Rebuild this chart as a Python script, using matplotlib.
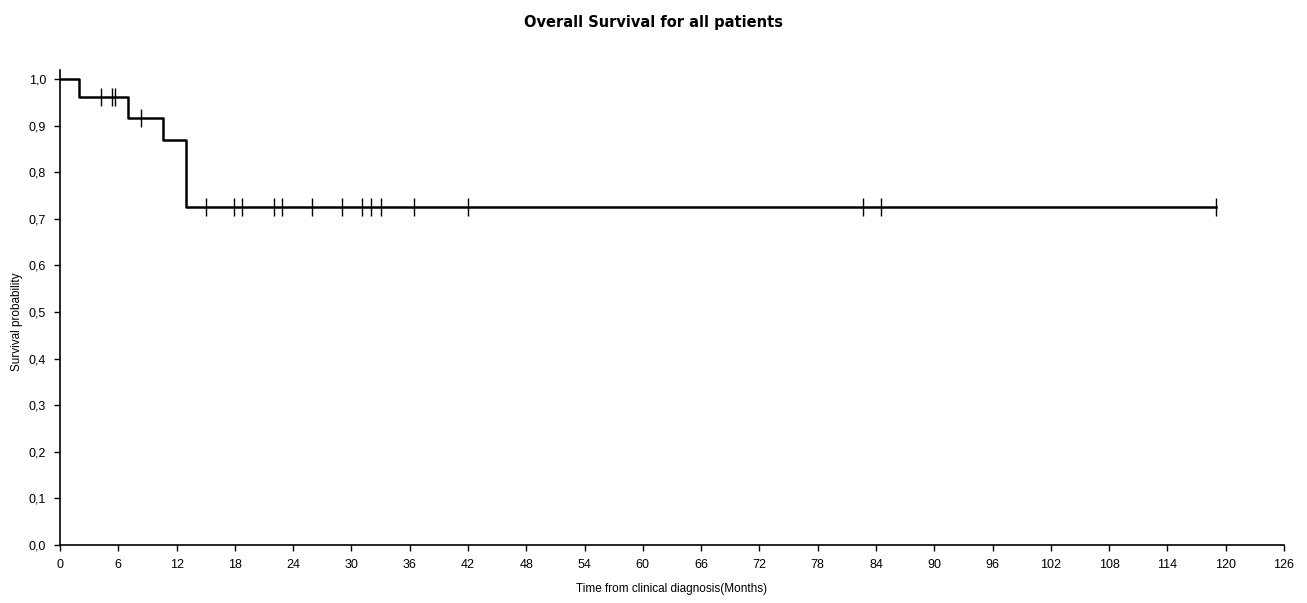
import numpy as np
import matplotlib.pyplot as plt

# Kaplan-Meier step curve (time in months, survival probability)
step_times = [0, 2, 7, 10.6, 13, 119]
step_surv = [1.0, 0.962, 0.916, 0.870, 0.725, 0.725]

# censored observations
censor_times = [4.2, 5.4, 5.7, 8.3, 15, 17.9, 18.7, 22, 22.9, 25.9, 29,
                31.1, 32, 33, 36.4, 42, 82.7, 84.5, 119]

x_ticks = np.arange(0, 127, 6)
y_ticks = np.arange(0, 1.01, 0.1)

plt.rcParams['font.family'] = ['Liberation Sans', 'DejaVu Sans']

fig = plt.figure(figsize=(13.07, 6.03), dpi=100)
ax = fig.add_axes([0.0459, 0.0962, 0.9365, 0.788])

ax.step(step_times, step_surv, where='post', color='black', lw=1.8)

# censor marks sit on the curve value at that time
idx = np.searchsorted(step_times, censor_times, side='right') - 1
censor_surv = [step_surv[i] for i in idx]
ax.plot(censor_times, censor_surv, ls='none', marker='|', color='black',
        markersize=13, markeredgewidth=1.0)

ax.set_xlim(0, 126)
ax.set_ylim(0, 1.02)
ax.set_xticks(x_ticks)
ax.set_yticks(y_ticks)
ax.set_yticklabels([f"{v:.1f}".replace('.', ',') for v in y_ticks])
ax.tick_params(labelsize=9, length=4, width=1, direction='out', pad=6)

for s in ['top', 'right']:
    ax.spines[s].set_visible(False)
for s in ['left', 'bottom']:
    ax.spines[s].set_linewidth(1.2)

ax.set_xlabel("Time from clinical diagnosis(Months)", fontsize=8.5, labelpad=9)
ax.set_ylabel("Survival probability", fontsize=8.5)
ax.yaxis.set_label_coords(-0.03, 0.47)

fig.text(0.5, 0.962, "Overall Survival for all patients", ha='center',
         va='center', fontsize=10.5, fontweight='bold', family='DejaVu Sans')

fig.savefig("out.png", dpi=100)
